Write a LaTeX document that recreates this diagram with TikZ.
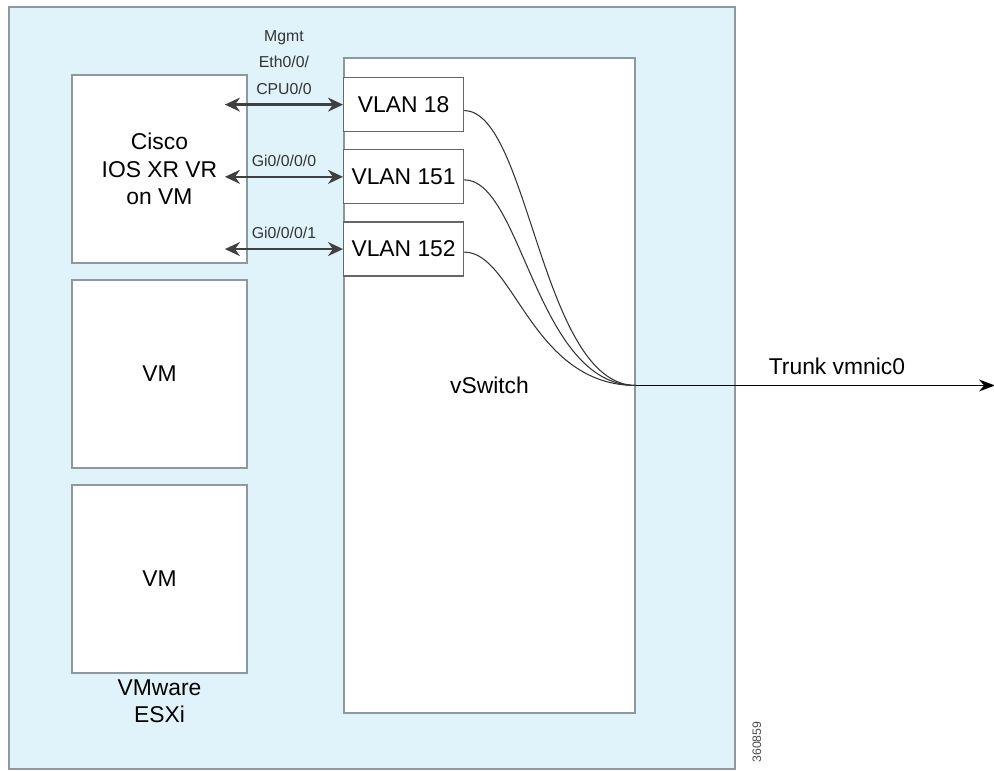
\documentclass[tikz,border=0pt]{standalone}
\usepackage{fontspec}
\setmainfont{Liberation Sans}
\usetikzlibrary{arrows.meta, positioning, calc}
\definecolor{esxblue}{HTML}{E1F3FA}
\definecolor{boxgray}{HTML}{8E999D}

\begin{document}
\begin{tikzpicture}[
    x=0.2mm, y=-0.2mm,
    font=\fontsize{13}{15.5}\selectfont,
    hostbox/.style={draw=boxgray, line width=1.1pt, fill=esxblue, anchor=north west, minimum width=145.2mm, minimum height=152.4mm, inner sep=0pt},
    vmbox/.style={draw=boxgray, line width=1.1pt, fill=white, align=center, minimum width=35mm, minimum height=37.6mm, inner sep=0pt},
    swbox/.style={draw=boxgray, line width=1.1pt, fill=white, anchor=north west, minimum width=58.2mm, minimum height=131mm, inner sep=0pt},
    vlanbox/.style={draw=black!60, line width=0.7pt, fill=white, minimum width=24mm, minimum height=10.8mm, inner sep=0pt},
    portlbl/.style={font=\fontsize{9}{15}\selectfont, align=center, text=black!80, inner sep=1pt},
    lbl/.style={align=center},
    link/.style={<->, >={Stealth[length=3mm, width=2.8mm]}, draw=black!75, line width=1.3pt},
    wire/.style={draw=black!80, line width=0.6pt},
    trunk/.style={->, >={Stealth[length=3.2mm, width=2.4mm]}, line width=0.7pt}
]
\useasboundingbox (0,0) rectangle (994,770);

% ===== ESXi HOST =====
\node[hostbox] (ESX) at (8,6) {};

% ===== VIRTUAL MACHINES =====
\node[vmbox, anchor=north west] (CISCO) at (71,74) {Cisco\\IOS XR VR\\on VM};
\node[vmbox, below=3mm of CISCO] (VM1) {VM};
\node[vmbox, below=3mm of VM1] (VM2) {VM};
\node[lbl, below=0mm of VM2] (HOST) {VMware\\ESXi};

% ===== vSWITCH + VLAN PORT GROUPS =====
\node[swbox] (VSW) at (343,57) {vSwitch};
\node[vlanbox, anchor=north west] (VLAN18) at (343,77) {VLAN 18};
\node[vlanbox, below=3.4mm of VLAN18] (VLAN151) {VLAN 151};
\node[vlanbox, below=3.4mm of VLAN151] (VLAN152) {VLAN 152};

% vNIC links VM <-> port group
\draw[link] ($(CISCO.east |- VLAN18.west)+(-23,0)$) -- (VLAN18.west)
  node[portlbl, midway, above=1.5mm] {Mgmt\\Eth0/0/\\CPU0/0};
\draw[link] ($(CISCO.east |- VLAN151.west)+(-23,0)$) -- (VLAN151.west)
  node[portlbl, midway, above=1.5mm] {Gi0/0/0/0};
\draw[link] ($(CISCO.east |- VLAN152.west)+(-23,0)$) -- (VLAN152.west)
  node[portlbl, midway, above=1.5mm] {Gi0/0/0/1};

% port groups -> uplink
\draw[wire] ([yshift=-1.2mm]VLAN18.east) .. controls +(65,0) and +(-95,0) .. (VSW.east);
\draw[wire] ([yshift=-0.6mm]VLAN151.east) .. controls +(58,0) and +(-100,0) .. (VSW.east);
\draw[wire] ([yshift=-0.6mm]VLAN152.east) .. controls +(50,0) and +(-105,0) .. (VSW.east);

% ===== TRUNK =====
\coordinate (UPLINK) at ($(VSW.east)+(359,0)$);
\draw[trunk] (VSW.east) -- (UPLINK) node[pos=0.56, above=0.8mm] {Trunk vmnic0};

\node[rotate=90, font=\fontsize{7}{8}\selectfont, text=black!70] (FIGID) at (757,742) {360859};

\end{tikzpicture}
\end{document}
